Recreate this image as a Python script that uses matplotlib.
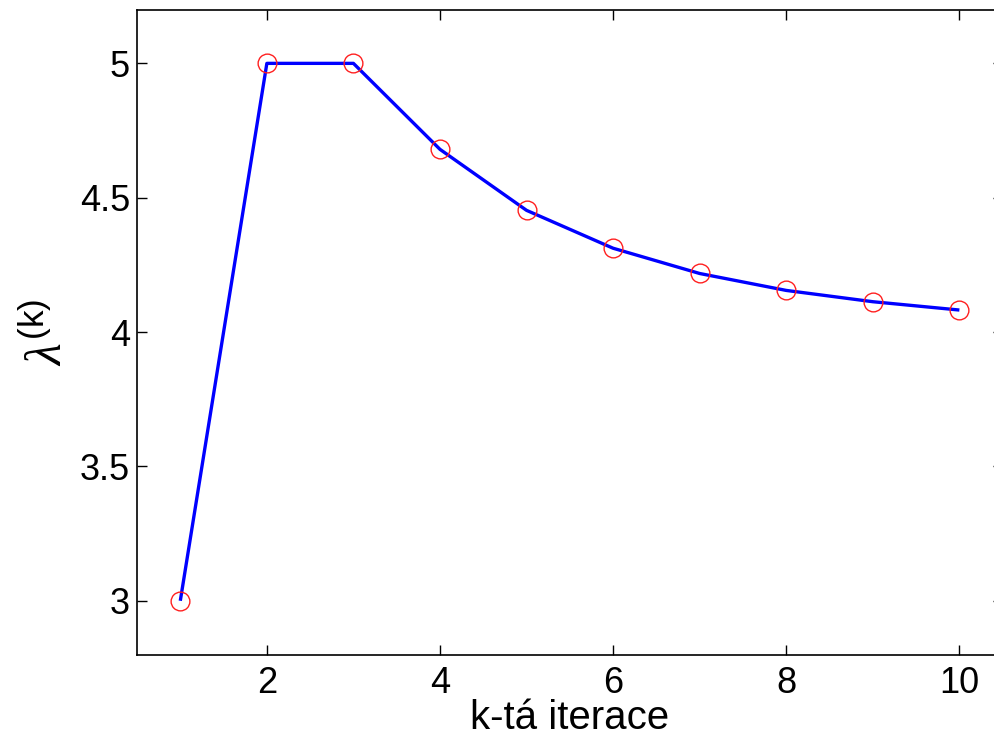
import numpy as np
import matplotlib
matplotlib.use('Agg')
import matplotlib.pyplot as plt

# data
k = [1, 2, 3, 4, 5, 6, 7, 8, 9, 10]
lam = [3.0, 5.0, 5.0, 4.68, 4.453, 4.312, 4.218, 4.155, 4.113, 4.082]

plt.rcParams['font.family'] = ['Liberation Sans', 'DejaVu Sans']
plt.rcParams['mathtext.fontset'] = 'custom'
plt.rcParams['mathtext.rm'] = 'Liberation Sans'
plt.rcParams['mathtext.it'] = 'Liberation Serif:italic'
plt.rcParams['mathtext.sf'] = 'Liberation Sans'

fig = plt.figure(figsize=(9.95, 7.4), dpi=100)
ax = fig.add_axes([0.1377, 0.1155, 0.870, 0.8715])

ax.plot(k, lam, '-', color='#0000ff', lw=2.4, solid_capstyle='butt')
ax.plot(k, lam, 'o', mfc='none', mec='#ff2020', ms=13.5, mew=1.0)

ax.set_xlim(0.5, 10.5)
ax.set_ylim(2.8, 5.2)
ax.set_xticks([2, 4, 6, 8, 10])
ax.set_yticks([3, 3.5, 4, 4.5, 5])
ax.set_yticklabels(['3', '3.5', '4', '4.5', '5'])
ax.tick_params(direction='in', length=7, width=1, labelsize=26,
               top=True, right=True)
ax.tick_params(axis='x', pad=8)
ax.tick_params(axis='y', pad=5)
for s in ax.spines.values():
    s.set_linewidth(1.2)

ax.set_xlabel('k-tá iterace', fontsize=29, labelpad=-1)
ax.set_ylabel(r'$\lambda^{\mathsf{(k)}}$', fontsize=36, labelpad=6)

fig.savefig('out.png', dpi=100)
